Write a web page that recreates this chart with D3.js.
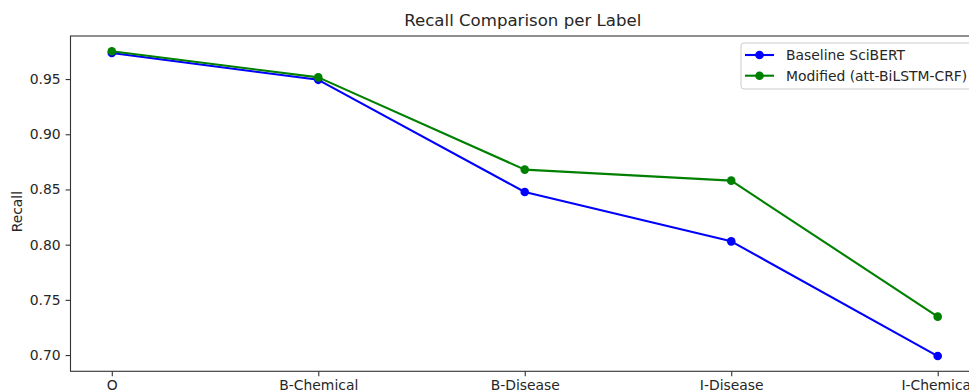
<!DOCTYPE html>
<html>
<head>
<meta charset="utf-8">
<script src="https://cdn.jsdelivr.net/npm/d3@7"></script>
<style>
  html, body { margin: 0; padding: 0; background: #fff; }
  svg { display: block; }
  text { font-family: "DejaVu Sans", sans-serif; fill: #262626; }
</style>
</head>
<body>
<svg id="chart" width="969" height="392"></svg>
<script>
// Labels on the x axis
const labels = ["O", "B-Chemical", "B-Disease", "I-Disease", "I-Chemical"];
// Recall per label for each model
const baselineRecall = [0.9736, 0.9493, 0.8477, 0.8030, 0.6991];
const modifiedRecall = [0.9752, 0.9515, 0.8680, 0.8580, 0.7348];
// Y axis tick values
const yTicks = [0.70, 0.75, 0.80, 0.85, 0.90, 0.95];

const seriesList = [
  { name: "Baseline SciBERT", values: baselineRecall, color: "#0000ff" },
  { name: "Modified (att-BiLSTM-CRF)", values: modifiedRecall, color: "#008000" }
];

const fontSize = "13.9px";
const svg = d3.select("#chart");
const plot = { left: 70.5, right: 979, top: 36, bottom: 371.3 };

const x = d3.scaleLinear().domain([-0.2, labels.length - 1 + 0.2]).range([plot.left, plot.right]);
const y = d3.scaleLinear().domain([0.6853, 0.9890]).range([plot.bottom, plot.top]);

// Title
svg.append("text")
  .attr("x", (plot.left + plot.right) / 2 - 2)
  .attr("y", 26)
  .attr("text-anchor", "middle")
  .style("font-size", "16.6px")
  .text("Recall Comparison per Label");

// Y axis label
svg.append("text")
  .attr("transform", `translate(22,${(plot.top + plot.bottom) / 2 + 8}) rotate(-90)`)
  .attr("text-anchor", "middle")
  .style("font-size", fontSize)
  .text("Recall");

// Axes
const xAxis = d3.axisBottom(x)
  .tickValues(d3.range(labels.length))
  .tickFormat(i => labels[i])
  .tickSize(4.9).tickPadding(3.5);
const yAxis = d3.axisLeft(y)
  .tickValues(yTicks)
  .tickFormat(d3.format(".2f"))
  .tickSize(4.9).tickPadding(4.9);

const gx = svg.append("g").attr("transform", `translate(0,${plot.bottom})`).call(xAxis);
const gy = svg.append("g").attr("transform", `translate(${plot.left},0)`).call(yAxis);
[gx, gy].forEach(g => {
  g.select(".domain").remove();
  g.selectAll(".tick line").attr("stroke", "#333").attr("stroke-width", 1.1);
  g.selectAll(".tick text").style("font-size", fontSize).style("font-family", "DejaVu Sans, sans-serif").attr("fill", "#262626");
});

// Spines
svg.append("rect")
  .attr("x", plot.left).attr("y", plot.top)
  .attr("width", plot.right - plot.left).attr("height", plot.bottom - plot.top)
  .attr("fill", "none").attr("stroke", "#333").attr("stroke-width", 1.1);

// Lines and markers
const line = d3.line().x((d, i) => x(i)).y(d => y(d));
seriesList.forEach(s => {
  const g = svg.append("g");
  g.append("path")
    .attr("d", line(s.values))
    .attr("fill", "none")
    .attr("stroke", s.color)
    .attr("stroke-width", 2.1)
    .attr("stroke-linejoin", "round");
  g.selectAll("circle").data(s.values).join("circle")
    .attr("cx", (d, i) => x(i))
    .attr("cy", d => y(d))
    .attr("r", 4.3)
    .attr("fill", s.color);
});

// Legend
const lg = svg.append("g").attr("transform", "translate(741,43)");
lg.append("rect")
  .attr("width", 231).attr("height", 46)
  .attr("rx", 3).attr("ry", 3)
  .attr("fill", "rgba(255,255,255,0.8)")
  .attr("stroke", "#cccccc").attr("stroke-width", 1);
seriesList.forEach((s, i) => {
  const cy = 12 + i * 20.7;
  lg.append("line")
    .attr("x1", 4).attr("x2", 33).attr("y1", cy).attr("y2", cy)
    .attr("stroke", s.color).attr("stroke-width", 2.1);
  lg.append("circle").attr("cx", 18.5).attr("cy", cy).attr("r", 4.3).attr("fill", s.color);
  lg.append("text")
    .attr("x", 45).attr("y", cy + 5)
    .style("font-size", fontSize)
    .text(s.name);
});
</script>
</body>
</html>
